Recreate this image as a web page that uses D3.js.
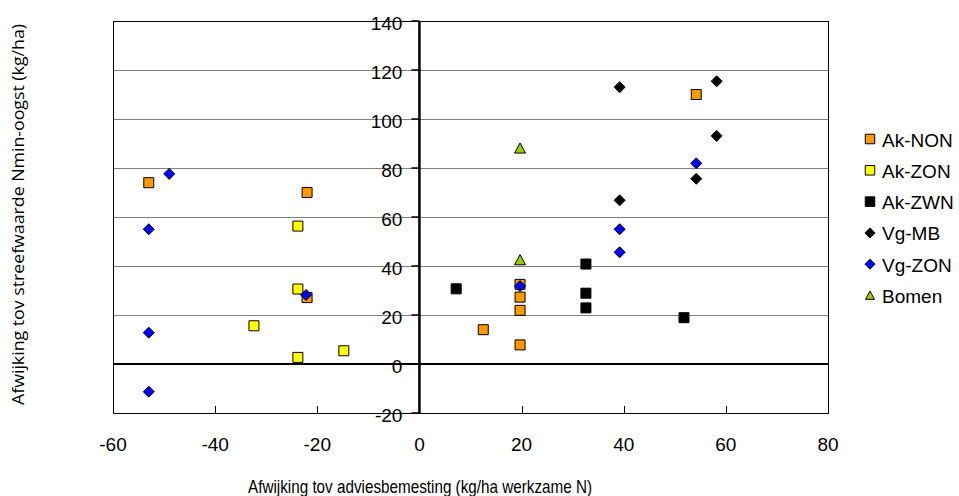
<!DOCTYPE html>
<html>
<head>
<meta charset="utf-8">
<script src="https://cdn.jsdelivr.net/npm/d3@7"></script>
<style>
  body { margin: 0; background: #fff; }
  svg { display: block; }
</style>
</head>
<body>
<div id="chart"></div>
<script>
// Data
const seriesNames = ['Ak-NON', 'Ak-ZON', 'Ak-ZWN', 'Vg-MB', 'Vg-ZON', 'Bomen'];

const akNON = [[-53, 74], [-22, 70], [-22, 27.1], [54.2, 110], [19.7, 32.5], [19.7, 27.3], [19.7, 21.9], [12.5, 14], [19.7, 7.8]];
const akZON = [[-23.8, 56.3], [-23.8, 30.6], [-32.4, 15.6], [-23.8, 2.7], [-14.8, 5.4]];
const akZWN = [[7.2, 30.7], [32.6, 40.8], [32.6, 28.9], [32.6, 22.9], [51.8, 18.9]];
const vgMB = [[39.2, 113], [58.2, 115.4], [58.2, 93.1], [54.2, 75.6], [39.2, 66.8]];
const vgZON = [[-49, 77.6], [-53, 55], [-22.2, 28.2], [-53, 12.8], [-53, -11.3], [54.2, 81.9], [39.2, 55], [39.2, 45.6], [19.7, 31.8]];
const bomen = [[19.7, 88], [19.7, 42.4]];

const xTicks = [-60, -40, -20, 0, 20, 40, 60, 80];
const yTicks = [-20, 0, 20, 40, 60, 80, 100, 120, 140];

const xTitle = 'Afwijking tov adviesbemesting (kg/ha werkzame N)';
const yTitle = 'Afwijking tov streefwaarde Nmin-oogst (kg/ha)';

// marker styles per series
const styles = {
  'Ak-NON': {shape: 'square', fill: '#FF9900', stroke: '#000', size: 10},
  'Ak-ZON': {shape: 'square', fill: '#FFFF00', stroke: '#000', size: 10},
  'Ak-ZWN': {shape: 'square', fill: '#000', stroke: '#000', size: 10},
  'Vg-MB': {shape: 'diamond', fill: '#000', stroke: '#000', size: 10},
  'Vg-ZON': {shape: 'diamond', fill: '#0000FF', stroke: '#000', size: 10},
  'Bomen': {shape: 'triangle', fill: '#99CC00', stroke: '#000', size: 11}
};
const seriesData = [akNON, akZON, akZWN, vgMB, vgZON, bomen];

const width = 959, height = 496;
const plot = {left: 113, right: 828, top: 21, bottom: 413};
const font = '"Liberation Sans", Arial, sans-serif';

const x = d3.scaleLinear().domain([-60, 80]).range([plot.left, plot.right]);
const y = d3.scaleLinear().domain([-20, 140]).range([plot.bottom, plot.top]);

function markerPath(shape, s) {
  const h = s / 2;
  if (shape === 'square') return `M${-h},${-h}H${h}V${h}H${-h}Z`;
  if (shape === 'diamond') return `M0,${-h - 0.5}L${h + 0.5},0L0,${h + 0.5}L${-h - 0.5},0Z`;
  return `M0,${-h}L${h},${h * 0.85}L${-h},${h * 0.85}Z`;
}

const svg = d3.select('#chart')
  .append('svg')
  .attr('width', width)
  .attr('height', height);

// gridlines
svg.append('g')
  .selectAll('line')
  .data(yTicks.filter(v => v > 0 && v < 140))
  .join('line')
  .attr('x1', plot.left)
  .attr('x2', plot.right)
  .attr('y1', d => Math.round(y(d)) + 0.5)
  .attr('y2', d => Math.round(y(d)) + 0.5)
  .attr('stroke', '#808080')
  .attr('stroke-width', 1);

// plot border
svg.append('rect')
  .attr('x', plot.left + 0.5)
  .attr('y', plot.top + 0.5)
  .attr('width', plot.right - plot.left)
  .attr('height', plot.bottom - plot.top)
  .attr('fill', 'none')
  .attr('stroke', '#000')
  .attr('stroke-width', 1);

// zero line (x axis crossing at y=0)
svg.append('line')
  .attr('x1', plot.left)
  .attr('x2', plot.right)
  .attr('y1', y(0))
  .attr('y2', y(0))
  .attr('stroke', '#000')
  .attr('stroke-width', 2);

// x ticks at bottom, pointing inward
svg.append('g')
  .selectAll('line')
  .data(xTicks.filter(v => v > -60 && v < 80 && v !== 0))
  .join('line')
  .attr('x1', d => Math.round(x(d)) + 0.5)
  .attr('x2', d => Math.round(x(d)) + 0.5)
  .attr('y1', plot.bottom)
  .attr('y2', plot.bottom - 7)
  .attr('stroke', '#000');

// x tick labels
svg.append('g')
  .selectAll('text')
  .data(xTicks)
  .join('text')
  .attr('x', d => x(d))
  .attr('y', 444)
  .attr('text-anchor', 'middle')
  .attr('dominant-baseline', 'central')
  .style('font-family', font)
  .style('font-size', '19px')
  .text(d => d);

// y axis at x = 0
svg.append('line')
  .attr('x1', x(0))
  .attr('x2', x(0))
  .attr('y1', plot.top)
  .attr('y2', plot.bottom)
  .attr('stroke', '#000')
  .attr('stroke-width', 2.5);

svg.append('g')
  .selectAll('line')
  .data(yTicks)
  .join('line')
  .attr('x1', x(0) - 8)
  .attr('x2', x(0))
  .attr('y1', d => y(d))
  .attr('y2', d => y(d))
  .attr('stroke', '#000')
  .attr('stroke-width', 1.5);

svg.append('g')
  .selectAll('text')
  .data(yTicks)
  .join('text')
  .attr('x', x(0) - 17)
  .attr('y', d => y(d) + 2)
  .attr('text-anchor', 'end')
  .attr('dominant-baseline', 'central')
  .style('font-family', font)
  .style('font-size', '19px')
  .text(d => d);

// points
seriesNames.forEach((name, i) => {
  const st = styles[name];
  svg.append('g')
    .selectAll('path')
    .data(seriesData[i])
    .join('path')
    .attr('transform', d => `translate(${x(d[0])},${y(d[1])})`)
    .attr('d', markerPath(st.shape, st.size))
    .attr('fill', st.fill)
    .attr('stroke', st.stroke)
    .attr('stroke-width', 1);
});

// legend
const legend = svg.append('g');
seriesNames.forEach((name, i) => {
  const st = styles[name];
  const ly = 139 + i * 31.3;
  legend.append('path')
    .attr('transform', `translate(870,${ly})`)
    .attr('d', markerPath(st.shape, st.shape === 'square' ? 9.5 : 9))
    .attr('fill', st.fill)
    .attr('stroke', st.stroke)
    .attr('stroke-width', 1);
  legend.append('text')
    .attr('x', 882)
    .attr('y', ly + 1)
    .attr('dominant-baseline', 'central')
    .style('font-family', font)
    .style('font-size', '19px')
    .text(name);
});

// axis titles
svg.append('text')
  .attr('x', 248)
  .attr('y', 486)
  .attr('dominant-baseline', 'central')
  .attr('textLength', 344)
  .attr('lengthAdjust', 'spacingAndGlyphs')
  .style('font-family', font)
  .style('font-size', '19px')
  .text(xTitle);

svg.append('text')
  .attr('transform', 'translate(18,405) rotate(-90)')
  .attr('dominant-baseline', 'central')
  .attr('textLength', 381)
  .attr('lengthAdjust', 'spacingAndGlyphs')
  .style('font-family', '"Open Sans", sans-serif')
  .style('font-size', '16px')
  .text(yTitle);
</script>
</body>
</html>
